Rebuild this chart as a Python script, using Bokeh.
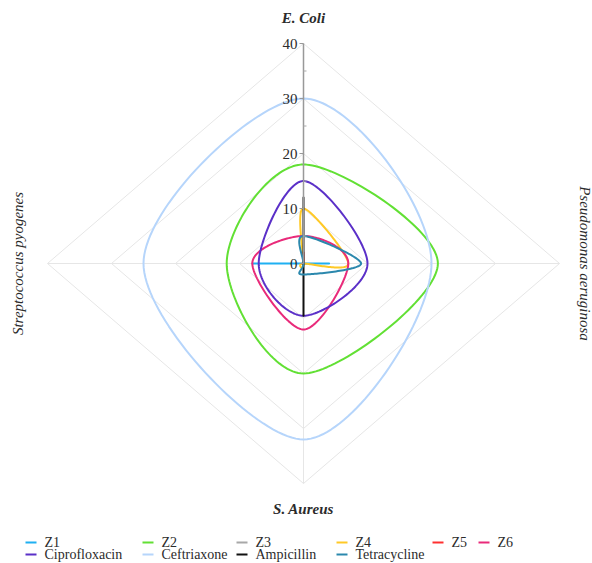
import numpy as np
from bokeh.plotting import figure
from bokeh.models import Range1d
from bokeh.core.properties import value
from bokeh.embed import file_html
from bokeh.resources import INLINE

# ---------------- data ----------------
axis_names = ["E. Coli", "Pseudomonas aeruginosa", "S. Aureus", "Streptococcus pyogenes"]
radial_ticks = [0, 10, 20, 30, 40]
series_names = ["Z1", "Z2", "Z3", "Z4", "Z5", "Z6",
                "Ciprofloxacin", "Ceftriaxone", "Ampicillin", "Tetracycline"]
# values per axis: E. Coli, Pseudomonas aeruginosa, S. Aureus, Streptococcus pyogenes
z1 = [0, 4, 0, 8]
z2 = [18, 21, 20, 12]
z3 = [0, 0, 0, 0]
z4 = [10, 7, 0, 0]
z5 = [2, 0, 0, 0]
z6 = [5, 7, 12, 8]
ciprofloxacin = [15, 10, 9.5, 7]
ceftriaxone = [30, 20, 32, 25]
ampicillin = [12, 0, 9.5, 0]
tetracycline = [5, 9, 2, 0]
series_values = [z1, z2, z3, z4, z5, z6, ciprofloxacin, ceftriaxone, ampicillin, tetracycline]
colors = ["#1fb0f2", "#62e034", "#a8a8a8", "#ffc926", "#ff3030", "#e92a7a",
          "#5b30c8", "#b6d5fb", "#111111", "#2b88ad"]

# ---------------- geometry (screen layout) ----------------
W, H = 592, 563
CX, CY = 303, 263          # centre of radar in screen px
KX, KY = 6.4, 5.5          # px per unit, horizontal / vertical


def dx(sx):
    return (sx - CX) / KX


def dy(sy):
    return (CY - sy) / KY


p = figure(width=W, height=H, output_backend="svg", toolbar_location=None,
           x_range=Range1d(dx(0), dx(W)), y_range=Range1d(dy(H), dy(0)),
           min_border=0, outline_line_color=None,
           x_axis_type=None, y_axis_type=None)
p.grid.visible = False
p.background_fill_color = "white"
p.border_fill_color = "white"

dirs = [(0, 1), (1, 0), (0, -1), (-1, 0)]
rmax = radial_ticks[-1]

# grid diamonds
grid_col = "#e6e6e6"
for r in radial_ticks[1:]:
    xs = [d[0] * r for d in dirs] + [dirs[0][0] * r]
    ys = [d[1] * r for d in dirs] + [dirs[0][1] * r]
    p.line(xs, ys, line_color=grid_col, line_width=1)
# spokes
p.segment(x0=[0] * 4, y0=[0] * 4, x1=[d[0] * rmax for d in dirs],
          y1=[d[1] * rmax for d in dirs], line_color=grid_col, line_width=1)


def catmull_closed(pts, n=40):
    pts = np.asarray(pts, dtype=float)
    m = len(pts)
    out = []
    t = np.linspace(0, 1, n, endpoint=False)[:, None]
    for i in range(m):
        P0, P1, P2, P3 = pts[(i - 1) % m], pts[i], pts[(i + 1) % m], pts[(i + 2) % m]
        seg = 0.5 * ((2 * P1) + (-P0 + P2) * t + (2 * P0 - 5 * P1 + 4 * P2 - P3) * t ** 2
                     + (-P0 + 3 * P1 - 3 * P2 + P3) * t ** 3)
        out.append(seg)
    out = np.vstack(out + [pts[:1]])
    return out[:, 0], out[:, 1]


for name, vals, col in zip(series_names, series_values, colors):
    pts = [(d[0] * v, d[1] * v) for d, v in zip(dirs, vals)]
    xs, ys = catmull_closed(pts)
    p.line(xs, ys, line_color=col, line_width=2, line_join="round", line_cap="round")

serif = value("Times New Roman")
txt_col = "#2b2b2b"

# radial axis
p.segment(x0=[0], y0=[0], x1=[0], y1=[rmax], line_color="#999999", line_width=1.5)
tick_len = 4 / KX
p.segment(x0=[-tick_len] * len(radial_ticks), y0=radial_ticks,
          x1=[0] * len(radial_ticks), y1=radial_ticks, line_color="#999999", line_width=1)
minor = [t + 5 for t in radial_ticks[:-1]]
p.segment(x0=[0] * len(minor), y0=minor, x1=[3 / KX] * len(minor), y1=minor,
          line_color="#aaaaaa", line_width=1)
p.text(x=[0] * len(radial_ticks), y=radial_ticks, text=[str(t) for t in radial_ticks],
       x_offset=-6, text_align="right", text_baseline="middle",
       text_font=serif, text_font_size="15px", text_color=txt_col)

# axis names
p.text(x=[dx(CX)], y=[dy(17)], text=[axis_names[0]], text_align="center",
       text_baseline="middle", text_font=serif, text_font_style="bold italic",
       text_font_size="15px", text_color=txt_col)
p.text(x=[dx(CX)], y=[dy(508)], text=[axis_names[2]], text_align="center",
       text_baseline="middle", text_font=serif, text_font_style="bold italic",
       text_font_size="15px", text_color=txt_col)
p.text(x=[dx(17)], y=[dy(CY)], text=[axis_names[3]], angle=np.pi / 2, text_align="center",
       text_baseline="middle", text_font=serif, text_font_style="italic",
       text_font_size="15px", text_color=txt_col)
p.text(x=[dx(584)], y=[dy(CY)], text=[axis_names[1]], angle=-np.pi / 2, text_align="center",
       text_baseline="middle", text_font=serif, text_font_style="italic",
       text_font_size="15px", text_color=txt_col)

# legend (manual, two rows)
col_x = [25, 142, 236, 336, 432, 478]
row_y = [542, 554]
for i, (name, col) in enumerate(zip(series_names, colors)):
    r, c = (0, i) if i < 6 else (1, i - 6)
    sx0 = col_x[c]
    sy = row_y[r]
    p.segment(x0=[dx(sx0)], y0=[dy(sy)], x1=[dx(sx0 + 11)], y1=[dy(sy)],
              line_color=col, line_width=2)
    p.text(x=[dx(sx0 + 19)], y=[dy(sy)], text=[name], text_align="left",
           text_baseline="middle", text_font=serif, text_font_size="14px",
           text_color=txt_col)

open("out.html", "w").write(file_html(p, INLINE))
